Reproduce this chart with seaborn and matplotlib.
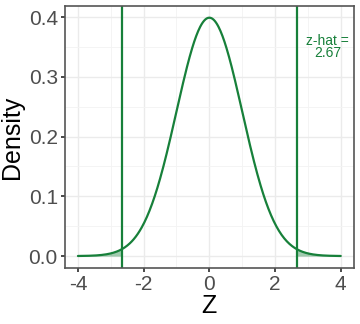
import numpy as np
import pandas as pd
import matplotlib
matplotlib.use("Agg")
import matplotlib.pyplot as plt
import seaborn as sns
from matplotlib.ticker import MultipleLocator

# data
z_grid = np.linspace(-4, 4, 401)
density = np.exp(-z_grid**2 / 2) / np.sqrt(2 * np.pi)
z_hat = 2.67
label = "z-hat =\n2.67"
xticks = [-4, -2, 0, 2, 4]
yticks = [0.0, 0.1, 0.2, 0.3, 0.4]

df = pd.DataFrame({"Z": z_grid, "Density": density})

sns.set_theme(style="whitegrid")
plt.rcParams['font.family'] = ['Liberation Sans', 'DejaVu Sans']

green = "#17803a"

fig, ax = plt.subplots(figsize=(3.6, 3.24), dpi=100)
fig.subplots_adjust(left=0.18, right=0.983, top=0.982, bottom=0.173)

sns.lineplot(data=df, x="Z", y="Density", ax=ax, color=green, linewidth=1.6)

lo = df["Z"] <= -z_hat
hi = df["Z"] >= z_hat
ax.fill_between(df["Z"][lo], 0, df["Density"][lo], color=green, alpha=0.4, linewidth=0)
ax.fill_between(df["Z"][hi], 0, df["Density"][hi], color=green, alpha=0.4, linewidth=0)

ax.axvline(-z_hat, color=green, linewidth=1.6)
ax.axvline(z_hat, color=green, linewidth=1.6)

ax.text(3.6, 0.35, label, color=green, fontsize=10, ha="center", va="center", linespacing=0.8)

ax.set_xlim(-4.4, 4.4)
ax.set_ylim(-0.0199, 0.4188)
ax.set_xticks(xticks)
ax.set_yticks(yticks)
ax.set_xticklabels([str(t) for t in xticks])
ax.set_yticklabels([f"{t:.1f}" for t in yticks])
ax.xaxis.set_minor_locator(MultipleLocator(1))
ax.yaxis.set_minor_locator(MultipleLocator(0.05))

ax.grid(which="major", color="#EBEBEB", linewidth=1.0)
ax.grid(which="minor", color="#F3F3F3", linewidth=0.6)
ax.set_axisbelow(True)

for s in ax.spines.values():
    s.set_visible(True)
    s.set_color("#555555")
    s.set_linewidth(1.2)

ax.tick_params(axis="both", which="major", labelsize=15, labelcolor="#4D4D4D",
               length=3, color="#333333", pad=2)
ax.tick_params(axis="both", which="minor", length=0)
ax.tick_params(bottom=True, left=True)
ax.set_xlabel("Z", fontsize=18, color="black", labelpad=0)
ax.set_ylabel("Density", fontsize=18, color="black", labelpad=3)

fig.savefig("out.png", dpi=100)
